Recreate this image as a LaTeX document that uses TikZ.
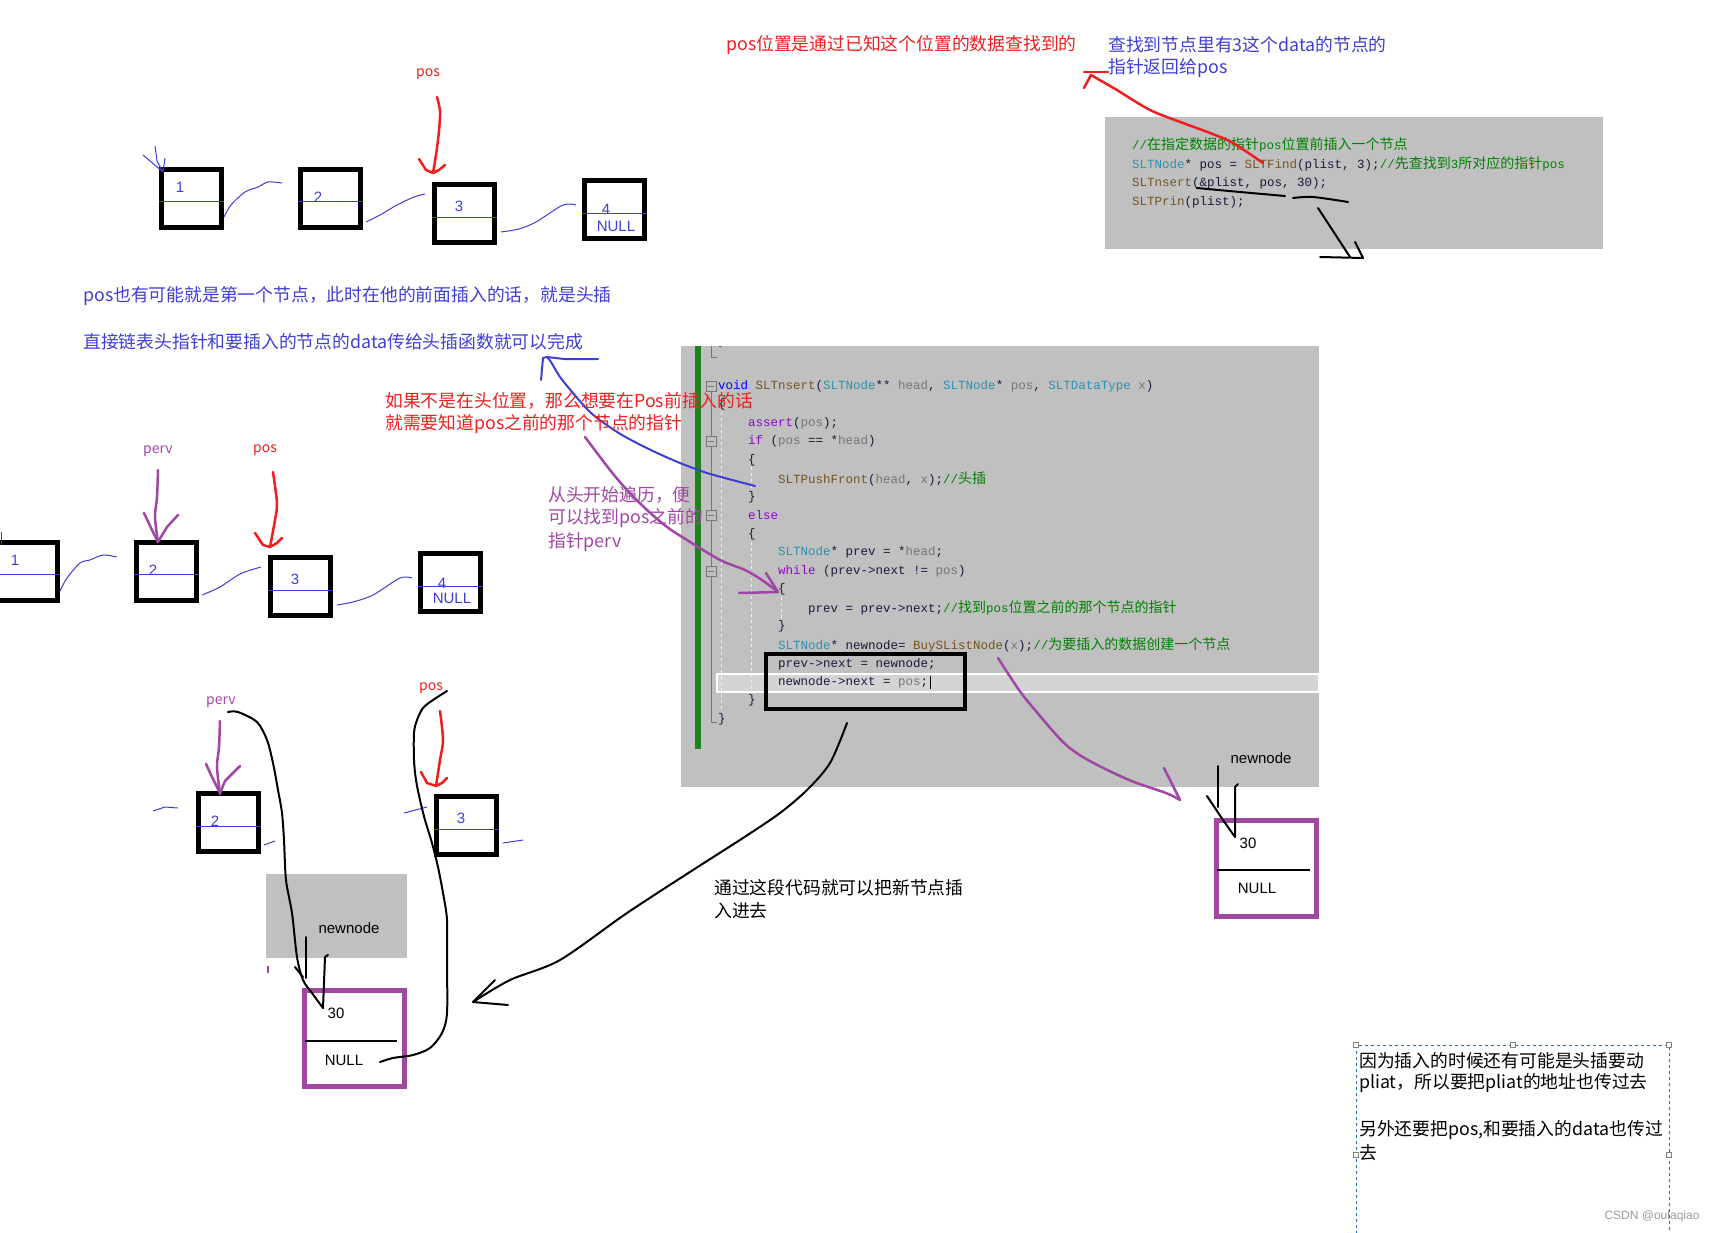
\documentclass[tikz,border=0pt]{standalone}
\usepackage{fontspec}
\setmainfont{Noto Sans CJK SC}
\newfontfamily\arialf{Liberation Sans}
\newfontfamily\monof{Liberation Mono}
\newfontfamily\cjkf{Noto Sans CJK SC}

\definecolor{penblue}{RGB}{62,62,215}
\definecolor{penred}{RGB}{240,30,30}
\definecolor{penpurple}{RGB}{160,70,165}
\definecolor{boxpurple}{RGB}{160,72,160}
\definecolor{panelgray}{RGB}{192,192,192}
\definecolor{hlgray}{RGB}{212,212,212}
\definecolor{bargreen}{RGB}{30,130,30}
\definecolor{codeink}{RGB}{25,25,60}
\definecolor{kwblue}{RGB}{0,0,255}
\definecolor{typeteal}{RGB}{43,145,175}
\definecolor{fnbrown}{RGB}{116,83,31}
\definecolor{pargray}{RGB}{118,118,118}
\definecolor{ctlviolet}{RGB}{143,8,196}
\definecolor{comgreen}{RGB}{0,128,0}

\newcommand\ckw[1]{\textcolor{kwblue}{#1}}
\newcommand\cty[1]{\textcolor{typeteal}{#1}}
\newcommand\cfn[1]{\textcolor{fnbrown}{#1}}
\newcommand\cpa[1]{\textcolor{pargray}{#1}}
\newcommand\cct[1]{\textcolor{ctlviolet}{#1}}
\newcommand\ccm[1]{\textcolor{comgreen}{#1}}
\newcommand\zh[1]{{\cjkf\fontsize{14}{16}\selectfont #1}}

\tikzset{
  cell/.style={draw, line width=5pt, minimum width=60pt, minimum height=58pt, inner sep=0pt},
  newcell/.style={draw=boxpurple, line width=5pt, minimum width=100pt, minimum height=96pt, inner sep=0pt},
  code/.style={anchor=west, inner sep=0pt, text=codeink, font=\monof\fontsize{12.5}{14}\selectfont\frenchspacing},
  note/.style={anchor=west, inner sep=0pt, font=\fontsize{17.8}{22}\selectfont},
  tag/.style={inner sep=0pt, font=\fontsize{14}{16}\selectfont},
  numlbl/.style={inner sep=0pt, text=penblue, font=\arialf\fontsize{15}{16}\selectfont},
  blklbl/.style={inner sep=0pt, font=\arialf\fontsize{15}{16}\selectfont},
  wire/.style={penblue, line width=1pt},
  redpen/.style={penred, line width=2.5pt, line cap=round, line join=round},
  purpen/.style={penpurple, line width=2.5pt, line cap=round, line join=round},
  bluepen/.style={penblue, line width=2pt, line cap=round, line join=round},
  blkpen/.style={black, line width=2pt, line cap=round, line join=round},
  foldbox/.style={draw=pargray, fill=panelgray, minimum size=10pt, inner sep=0pt,
    path picture={\draw[pargray] ([xshift=2pt]path picture bounding box.west) -- ([xshift=-2pt]path picture bounding box.east);}},
  guide/.style={white!75!panelgray, dashed, line width=0.8pt},
}

\begin{document}
\begin{tikzpicture}[x=1pt,y=-1pt]
\useasboundingbox (0,0) rectangle (1719,1233);

% grey panels
\fill[panelgray] (1105,117) rectangle (1603,249);
\fill[panelgray] (681,346) rectangle (1319,787);
\fill[panelgray] (266,874) rectangle (407,958);

% caller code
\node[code] (f1) at (1132,145) {\ccm{//\zh{在指定数据的指针}pos\zh{位置前插入一个节点}}};
\node[code] (f2) at (1132,164) {\cty{SLTNode}* pos = \cfn{SLTFind}(plist, 3);\ccm{//\zh{先查找到}3\zh{所对应的指针}pos}};
\node[code] (f3) at (1132,183) {\cfn{SLTnsert}(\&plist, pos, 30);};
\node[code] (f4) at (1132,202) {\cfn{SLTPrin}(plist);};

% function body
\draw[white, line width=1.5pt, fill=hlgray] (717,674) rectangle (1319,692);
\draw[pargray, line width=0.8pt] (711,346) -- (711,357) -- (717,357);
\draw[pargray, line width=0.8pt] (711,391) -- (711,722) -- (717,722);
\draw[guide] (721,412) -- (721,712);
\draw[guide] (751,467) -- (751,490);
\draw[guide] (751,542) -- (751,694);
\draw[guide] (781,597) -- (781,620);
\begin{scope}
  \clip (681,346) rectangle (1319,787);
  \node[code] (c0) at (718,341) {\}};
\end{scope}
\node[code] (c1) at (718,386) {\ckw{void} \cfn{SLTnsert}(\cty{SLTNode}** \cpa{head}, \cty{SLTNode}* \cpa{pos}, \cty{SLTDataType} \cpa{x})};
\node[code] (c2) at (718,404.5) {\{};
\node[code] (c3) at (748,423) {\cct{assert}(\cpa{pos});};
\node[code] (c4) at (748,441.5) {\cct{if} (\cpa{pos} == *\cpa{head})};
\node[code] (c5) at (748,460) {\{};
\node[code] (c6) at (778,478.5) {\cfn{SLTPushFront}(\cpa{head}, \cpa{x});\ccm{//\zh{头插}}};
\node[code] (c7) at (748,497) {\}};
\node[code] (c8) at (748,515.5) {\cct{else}};
\node[code] (c9) at (748,534) {\{};
\node[code] (c10) at (778,552.5) {\cty{SLTNode}* prev = *\cpa{head};};
\node[code] (c11) at (778,571) {\cct{while} (prev->next != \cpa{pos})};
\node[code] (c12) at (778,589.5) {\{};
\node[code] (c13) at (808,608) {prev = prev->next;\ccm{//\zh{找到}pos\zh{位置之前的那个节点的指针}}};
\node[code] (c14) at (778,626.5) {\}};
\node[code] (c15) at (778,645) {\cty{SLTNode}* newnode= \cfn{BuySListNode}(\cpa{x});\ccm{//\zh{为要插入的数据创建一个节点}}};
\node[code] (c16) at (778,664.5) {prev->next = newnode;};
\node[code] (c17) at (778,682.5) {newnode->next = \cpa{pos};};
\node[code] (c18) at (748,700.5) {\}};
\node[code] (c19) at (718,719) {\}};
\draw[line width=1pt] ([xshift=2pt]c17.north east) -- ([xshift=2pt]c17.south east);
\node[foldbox] (fb1) at (711,386) {};
\node[foldbox] (fb2) at (711,441.5) {};
\node[foldbox] (fb3) at (711,515.5) {};
\node[foldbox] (fb4) at (711,571) {};
\fill[bargreen] (695,346) rectangle (701,749);
\node[draw, line width=4pt, minimum width=199pt, minimum height=55pt, inner sep=0pt] (hot) at (865.5,681) {};

% list, first row
\node[cell] (t1) at (191.5,199) {};
\node[cell] (t2) at (330,199) {};
\node[cell] (t3) at (464.5,213.5) {};
\node[cell] (t4) at (614,210) {};
\draw[wire] ([yshift=-3pt]t1.west) -- ([yshift=-3pt]t1.east);
\draw[wire] ([yshift=-3pt]t2.west) -- ([yshift=-3pt]t2.east);
\draw[wire] ([yshift=-4pt]t3.west) -- ([yshift=-4pt]t3.east);
\draw[wire] ([yshift=-4pt]t4.west) -- ([yshift=-4pt]t4.east);
\node[numlbl] (t1v) at (180,187) {1};
\node[numlbl] (t2v) at (318,197) {2};
\node[numlbl] (t3v) at (459,206) {3};
\node[numlbl] (t4v) at (606,209) {4};
\node[numlbl] (t4n) at (616,226) {NULL};
\draw[wire] plot[smooth] coordinates {(224,217) (231,205) (245,192) (258,187) (268,182) (282,183)};
\draw[wire] plot[smooth] coordinates {(366,222) (380,215) (397,205) (414,197) (425,194)};
\draw[wire] plot[smooth] coordinates {(501,232) (519,229) (536,222) (563,205) (576,205)};
\draw[wire] (143,155) -- (163,172);
\draw[wire] (155,146) -- (157,161) -- (163,172);
\draw[wire] (165,158) -- (163,172);
\node[tag, text=penred] (posA) at (428,74) {pos};
\draw[redpen] plot[smooth] coordinates {(437,97) (440,111) (439,131) (436,155) (433,173)};
\draw[redpen] (419,159) -- (426,170) -- (433,173) -- (439,170) -- (445,165);

% list, second row
\node[cell] (m1) at (27.5,571.5) {};
\node[cell] (m2) at (166.5,571.5) {};
\node[cell] (m3) at (300.5,586) {};
\node[cell] (m4) at (450.5,582.5) {};
\draw[wire] ([yshift=-3pt]m1.west) -- ([yshift=-3pt]m1.east);
\draw[wire] ([yshift=-3pt]m2.west) -- ([yshift=-3pt]m2.east);
\draw[wire] ([yshift=-4pt]m3.west) -- ([yshift=-4pt]m3.east);
\draw[wire] ([yshift=-4pt]m4.west) -- ([yshift=-4pt]m4.east);
\node[numlbl] (m1v) at (15,560) {1};
\node[numlbl] (m2v) at (153,570) {2};
\node[numlbl] (m3v) at (295,579) {3};
\node[numlbl] (m4v) at (442,583) {4};
\node[numlbl] (m4n) at (452,598) {NULL};
\draw[wire] (1,532) -- (1,545);
\draw[wire] plot[smooth] coordinates {(60,591) (67,578) (80,563) (90,560) (103,555) (117,557)};
\draw[wire] plot[smooth] coordinates {(202,595) (220,587) (240,574) (261,567)};
\draw[wire] plot[smooth] coordinates {(337,605) (353,602) (373,595) (400,578) (412,578)};
\node[tag, text=penpurple] (pervB) at (158,451) {perv};
\draw[purpen] plot[smooth] coordinates {(158,470) (157,497) (155,517) (158,542)};
\draw[purpen] (144,513) -- (152,530) -- (158,542) -- (167,527) -- (178,515);
\node[tag, text=penred] (posB) at (265,450) {pos};
\draw[redpen] plot[smooth] coordinates {(273,472) (277,503) (275,520) (270,547)};
\draw[redpen] (255,533) -- (263,545) -- (270,547) -- (277,543) -- (282,538);

% list, third row with the new node
\node[cell] (b2) at (228.5,822) {};
\node[cell] (b3) at (466,825) {};
\draw[wire] ([yshift=-4pt]b2.west) -- ([yshift=-4pt]b2.east);
\draw[wire] ([yshift=-4pt]b3.west) -- ([yshift=-4pt]b3.east);
\node[numlbl] (b2v) at (215,821) {2};
\node[numlbl] (b3v) at (461,818) {3};
\draw[wire] (153,811) -- (165,807) -- (178,808);
\draw[wire] (264,845) -- (275,841);
\draw[wire] (404,813) -- (427,807);
\draw[wire] (503,843) -- (523,840);
\node[tag, text=penpurple] (pervC) at (221,702) {perv};
\draw[purpen] plot[smooth] coordinates {(220,721) (219,747) (217,767) (220,794)};
\draw[purpen] (206,764) -- (212,777) -- (220,793) -- (225,781) -- (240,766);
\node[tag, text=penred] (posC) at (431,688) {pos};
\draw[redpen] plot[smooth] coordinates {(440,711) (443,740) (440,760) (436,786)};
\draw[redpen] (421,772) -- (427,783) -- (436,786) -- (442,783) -- (447,778);
\node[blklbl] (nnA) at (349,928) {newnode};
\node[newcell] (pl) at (354.5,1038.5) {};
\draw[line width=1.5pt] (305,1041) -- (397,1041);
\node[blklbl] (plv) at (336,1013) {30};
\node[blklbl] (pln) at (344,1060) {NULL};
\draw[penpurple, line width=2pt] (268,966) -- (268,973);
\draw[blkpen] (306,937) -- (306,978);
\draw[blkpen] (328,955) -- (325,957) -- (323,1008);
\draw[blkpen] plot[smooth] coordinates {(228,712) (238,712) (257,722) (267,740) (273,763) (278,790) (282,813) (284,840) (286,880) (292,913) (297,957) (303,980) (312,993) (323,1008)};
\draw[blkpen] (295,967) -- (303,977);
\draw[blkpen] plot[smooth] coordinates {(447,691) (433,700) (423,708) (417,720) (414,733) (414,760) (416,780) (420,800) (425,820) (432,843) (438,867) (443,893) (447,920) (447,963) (447,1013) (442,1033) (430,1048) (413,1055) (393,1058) (380,1062)};

% new node on the right
\node[blklbl] (nnB) at (1261,758) {newnode};
\node[newcell] (pr) at (1266.5,868) {};
\draw[line width=1.5pt] (1217,870) -- (1310,870);
\node[blklbl] (prv) at (1248,843) {30};
\node[blklbl] (prn) at (1257,888) {NULL};
\draw[blkpen] (1218,766) -- (1218,807);
\draw[blkpen] (1238,784) -- (1235,787) -- (1235,837);
\draw[blkpen] (1207,796) -- (1213,805) -- (1223,820) -- (1235,837);

% hand drawn links between notes and code
\draw[redpen] plot[smooth] coordinates {(1263,163) (1233,143) (1210,133) (1183,123) (1150,110) (1117,90)};
\draw[redpen] (1084,88) -- (1091,75) -- (1117,90);
\draw[redpen] (1084,72) -- (1108,72);
\draw[blkpen] plot[smooth] coordinates {(1197,188) (1240,192) (1285,196)};
\draw[blkpen] plot[smooth] coordinates {(1293,198) (1313,197) (1348,202)};
\draw[blkpen] (1318,208) -- (1350,257);
\draw[blkpen] (1320,257) -- (1363,258) -- (1355,242);
\draw[bluepen] plot[smooth] coordinates {(755,486) (721,477) (704,472) (680,463) (655,452) (631,440) (614,430) (591,413) (573,393) (560,377) (551,362) (547,357)};
\draw[bluepen] (541,380) -- (543,358) -- (547,357) -- (564,359) -- (598,359);
\draw[purpen] plot[smooth] coordinates {(585,437) (610,470) (627,490) (647,510) (667,527) (687,540) (720,560) (745,570) (762,580) (778,592)};
\draw[purpen] (739,593) -- (778,592) -- (766,573);
\draw[purpen] plot[smooth] coordinates {(998,658) (1019,690) (1035,710) (1064,743) (1088,760) (1129,780) (1166,793) (1180,800)};
\draw[purpen] (1164,768) -- (1180,800);
\draw[blkpen] plot[smooth] coordinates {(847,723) (830,763) (807,790) (780,813) (743,838) (693,870) (627,913) (560,960) (510,980) (473,1002)};
\draw[blkpen] (495,980) -- (473,1002) -- (508,1005);

% notes
\node[note, text=penred] (n1) at (726,45) {pos位置是通过已知这个位置的数据查找到的};
\node[note, text=penblue] (n2) at (1108,45) {查找到节点里有3这个data的节点的};
\node[note, text=penblue] (n3) at (1108,68) {指针返回给pos};
\node[note, text=penblue] (n4) at (83,296) {pos也有可能就是第一个节点，此时在他的前面插入的话，就是头插};
\node[note, text=penblue] (n5) at (83,342) {直接链表头指针和要插入的节点的data传给头插函数就可以完成};
\node[note, text=penred] (n6) at (385,401) {如果不是在头位置，那么想要在Pos前插入的话};
\node[note, text=penred] (n7) at (385,424) {就需要知道pos之前的那个节点的指针};
\node[note, text=penpurple] (n8) at (548,495) {从头开始遍历，便};
\node[note, text=penpurple] (n9) at (548,518) {可以找到pos之前的};
\node[note, text=penpurple] (n10) at (548,542) {指针perv};
\node[note] (n11) at (714,888) {通过这段代码就可以把新节点插};
\node[note] (n12) at (714,911) {入进去};

% text box at the bottom right
\draw[draw={rgb,255:red,30;green,110;blue,200}, dashed, line width=1pt] (1356,1240) -- (1356,1045) -- (1669,1045) -- (1669,1240);
\foreach \hx/\hy in {1356/1045, 1513/1045, 1669/1045, 1356/1155, 1669/1155}
  \draw[gray, fill=white, line width=0.6pt] (\hx-2.5,\hy-2.5) rectangle (\hx+2.5,\hy+2.5);
\node[note] (n13) at (1359,1061) {因为插入的时候还有可能是头插要动};
\node[note] (n14) at (1359,1083) {pliat，所以要把pliat的地址也传过去};
\node[note] (n15) at (1359,1130) {另外还要把pos,和要插入的data也传过};
\node[note] (n16) at (1359,1153) {去};
\node[inner sep=0pt, text=gray!80, font=\arialf\fontsize{12}{14}\selectfont] (mark) at (1652,1216) {CSDN @oulaqiao};
\end{tikzpicture}
\end{document}
